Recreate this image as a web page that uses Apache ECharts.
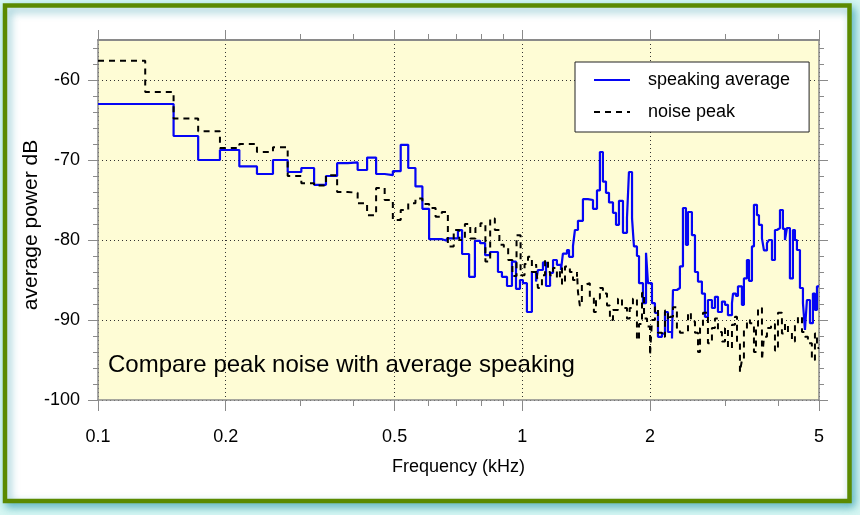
<!DOCTYPE html>
<html>
<head>
<meta charset="utf-8">
<script src="https://cdn.jsdelivr.net/npm/echarts@6/dist/echarts.min.js"></script>
<style>
html,body{margin:0;padding:0;background:#d6f7f3;}
#chart{width:860px;height:515px;}
</style>
</head>
<body>
<div id="chart"></div>
<script>
// ---- data (frequency in kHz, level in dB); each value holds until the next frequency ----
const speakingFreq = [0.1, 0.1507, 0.1722, 0.1938, 0.2153, 0.2369, 0.2584, 0.2799, 0.3014, 0.3230,
  0.3445, 0.3660, 0.3876, 0.4091, 0.4306, 0.4522, 0.4737, 0.4952, 0.5168, 0.5383,
  0.5598, 0.5813, 0.6029, 0.647, 0.664, 0.705, 0.721, 0.749, 0.773, 0.795,
  0.817, 0.839, 0.876, 0.895, 0.920, 0.945, 0.966, 0.987, 1.003, 1.025,
  1.053, 1.077, 1.088, 1.118, 1.137, 1.162, 1.181, 1.206, 1.233, 1.246,
  1.274, 1.288, 1.316, 1.330, 1.352, 1.389, 1.427, 1.467, 1.499, 1.523,
  1.548, 1.574, 1.600, 1.635, 1.662, 1.689, 1.726, 1.764, 1.783, 1.813,
  1.832, 1.862, 1.883, 1.924, 1.956, 1.977, 2.020, 2.053, 2.087, 2.133,
  2.168, 2.203, 2.252, 2.264, 2.313, 2.351, 2.390, 2.429, 2.456, 2.509,
  2.551, 2.593, 2.649, 2.693, 2.737, 2.797, 2.843, 2.890, 2.953, 3.002,
  3.051, 3.118, 3.136, 3.186, 3.221, 3.291, 3.327, 3.382, 3.420, 3.475,
  3.513, 3.571, 3.610, 3.669, 3.709, 3.770, 3.811, 3.874, 3.937, 3.980,
  4.046, 4.111, 4.157, 4.202, 4.270, 4.340, 4.388, 4.436, 4.509, 4.583,
  4.633, 4.683, 4.761, 4.838, 4.891, 4.945, 5.0];
const speakingDb = [-63, -67, -70, -68.75, -70.8, -71.75, -70, -71.5, -71, -73.1,
  -72, -70.4, -70.3, -71.25, -69.7, -71.75, -71.9, -71.4, -68.1, -71,
  -73.3, -76.1, -79.9, -80.1, -79.8, -78.75, -81.75, -84.6, -80.1, -80.4,
  -81.9, -81.5, -84, -84.6, -85.75, -82.7, -86.1, -85, -85.4, -89,
  -84, -85.2, -83.75, -82.8, -85.75, -84.1, -82.5, -83.1, -83.75, -81.7,
  -81.25, -82.1, -80.75, -78.75, -77.6, -74.9, -75, -76.1, -73.8, -69,
  -72.7, -74.1, -75.3, -76.6, -78.1, -75.1, -79.1, -77.25, -71.5, -77.3,
  -80.8, -82, -85.4, -87.9, -81.6, -85.4, -87.9, -89.1, -92.1, -91.7,
  -89, -91.5, -92.3, -86.25, -86, -83.3, -76, -80.6, -76.5, -79.4,
  -84, -85.2, -86.7, -89.6, -87.5, -88.5, -87.1, -89, -87.7, -88.1,
  -89.4, -87.9, -86.7, -87, -85.8, -88.1, -84.8, -82.5, -85.1, -80.8,
  -75.6, -76.9, -78.1, -79.8, -81.3, -80.4, -80, -82.5, -78.75, -78.5,
  -76.25, -78.6, -80, -78.5, -84.8, -78.75, -80, -81.25, -86, -87.9,
  -91.25, -87.5, -90.4, -86.7, -88.75, -85.8, -85.8];

const noiseFreq = [0.1, 0.1292, 0.1507, 0.1722, 0.1938, 0.2153, 0.2369, 0.2584, 0.2799, 0.3014,
  0.3230, 0.3445, 0.3660, 0.3876, 0.4091, 0.4306, 0.4522, 0.4737, 0.4952, 0.5168,
  0.5383, 0.5598, 0.5813, 0.6029, 0.6244, 0.6459, 0.6675, 0.6890, 0.7105, 0.7321,
  0.7536, 0.7751, 0.7966, 0.8182, 0.8397, 0.8612, 0.8827, 0.9043, 0.9258, 0.9473,
  0.9688, 0.9904, 1.0119, 1.031, 1.053, 1.077, 1.088, 1.112, 1.131, 1.149,
  1.162, 1.181, 1.206, 1.226, 1.240, 1.260, 1.294, 1.316, 1.345, 1.352,
  1.366, 1.381, 1.403, 1.442, 1.474, 1.491, 1.523, 1.548, 1.583, 1.608,
  1.635, 1.680, 1.717, 1.764, 1.790, 1.822, 1.862, 1.883, 1.914, 1.935,
  1.967, 1.999, 2.020, 2.053, 2.087, 2.133, 2.168, 2.203, 2.228, 2.264,
  2.313, 2.351, 2.401, 2.456, 2.495, 2.551, 2.593, 2.622, 2.664, 2.737,
  2.797, 2.843, 2.890, 2.953, 3.002, 3.051, 3.118, 3.169, 3.204, 3.256,
  3.291, 3.327, 3.382, 3.437, 3.513, 3.552, 3.591, 3.669, 3.709, 3.770,
  3.853, 3.937, 4.002, 4.089, 4.157, 4.225, 4.317, 4.388, 4.460, 4.559,
  4.633, 4.708, 4.810, 4.891, 4.945, 5.0];
const noiseDb = [-57.6, -61.5, -64.8, -66.4, -68.5, -68.0, -69, -68.4, -72, -72.9,
  -73.2, -71.9, -74, -74.1, -75.4, -76.9, -73.5, -75, -77.5, -76.25,
  -75.4, -74.8, -75.5, -76, -77.1, -76.5, -80.8, -78.75, -80, -78,
  -79.8, -78.5, -77.9, -82.7, -77.3, -78.75, -80.6, -81, -82.5, -84.5,
  -79.4, -84.4, -83, -82.1, -84, -83, -86, -84.4, -82.5, -84,
  -84.4, -83.5, -84.8, -83.5, -85.5, -83.3, -84, -85, -84, -86.5,
  -88.2, -85.6, -85.4, -87.2, -89, -87.3, -86, -86.7, -88.2, -90,
  -88.75, -87.3, -88.5, -89.8, -88.5, -87.3, -92.5, -90.5, -86.6, -89.8,
  -90.8, -94.4, -90, -88.4, -91.6, -92.1, -88.8, -90, -89.6, -88.4,
  -91, -91.6, -91.5, -89.1, -90.2, -91.6, -94, -91, -89.1, -92.9,
  -91, -89.8, -91.5, -92.7, -91, -93.5, -90.6, -89.6, -93, -96.5,
  -95, -91.25, -90, -90.4, -94, -91, -88.5, -95, -92.1, -91,
  -90.5, -93.8, -89.1, -91.7, -90.5, -91.5, -92.7, -90.5, -89.6, -91.5,
  -92.1, -92.9, -95, -91.7, -93.5, -93.5];

const xMajorTicks = [0.1, 0.2, 0.5, 1, 2, 5];
const xMinorTicks = [0.3, 0.4, 0.6, 0.7, 0.8, 0.9, 3, 4];
const yMajorTicks = [-100, -90, -80, -70, -60];
const yMinorTicks = [-98, -96, -94, -92, -88, -86, -84, -82, -78, -76, -74, -72, -68, -66, -64, -62, -58, -56];
const seriesNames = ['speaking average', 'noise peak'];
const annotation = 'Compare peak noise with average speaking';

const FONT = '"Liberation Sans", Arial, Helvetica, sans-serif';
const AXIS_GRAY = '#8a8a8a';

function pairs(xs, ys) { return xs.map((x, i) => [x, ys[i]]); }

function xAxisDef(pos, ticks, len, opts) {
  return Object.assign({
    type: 'log', logBase: 10, min: 0.1, max: 5, position: pos,
    axisLine: { show: false },
    axisTick: { show: true, inside: false, length: len, customValues: ticks, lineStyle: { color: AXIS_GRAY, width: 1 } },
    axisLabel: { show: false },
    splitLine: { show: false }
  }, opts || {});
}
function yAxisDef(pos, ticks, len, opts) {
  return Object.assign({
    type: 'value', min: -100, max: -55, position: pos,
    axisLine: { show: false },
    axisTick: { show: true, inside: false, length: len, customValues: ticks, lineStyle: { color: AXIS_GRAY, width: 1 } },
    axisLabel: { show: false },
    splitLine: { show: false }
  }, opts || {});
}

const chart = echarts.init(document.getElementById('chart'), null, { renderer: 'canvas' });
chart.setOption({
  backgroundColor: '#d6f7f3',
  animation: false,
  textStyle: { fontFamily: FONT },
  graphic: [
    {
      type: 'rect', z: -50, silent: true,
      shape: { x: 5, y: 5.5, width: 844.5, height: 495.5 },
      style: { fill: '#ffffff', stroke: '#5b8a00', lineWidth: 4.5,
        shadowBlur: 8, shadowOffsetX: 3, shadowOffsetY: 4, shadowColor: 'rgba(20,140,160,0.55)' }
    },
    {
      type: 'text', left: 108, top: 353, z: 50, silent: true,
      style: { text: annotation, font: '24px ' + FONT, fill: '#000' }
    }
  ],
  grid: {
    left: 98, right: 41, top: 40, bottom: 115,
    show: true, backgroundColor: '#fefcd5', borderWidth: 0
  },
  legend: {
    orient: 'vertical', left: 575, top: 62,
    itemWidth: 36, itemHeight: 14, itemGap: 14,
    padding: [9, 19, 11, 18],
    backgroundColor: '#ffffff', borderColor: '#222', borderWidth: 1,
    itemStyle: { opacity: 0, borderWidth: 0 },
    textStyle: { fontSize: 18, color: '#000', fontFamily: FONT, padding: [0, 0, 0, 13] },
    data: seriesNames
  },
  xAxis: [
    xAxisDef('bottom', xMajorTicks, 11, {
      name: 'Frequency (kHz)', nameLocation: 'middle', nameGap: 58,
      nameTextStyle: { fontSize: 18, color: '#000', fontFamily: FONT },
      axisLine: { show: true, lineStyle: { color: AXIS_GRAY, width: 1.5 } },
      axisLabel: { show: true, customValues: xMajorTicks, margin: 28, fontSize: 18, color: '#000', fontFamily: FONT,
        formatter: v => String(v) },
      splitLine: { show: true, lineStyle: { color: '#333', width: 1, type: [1, 3] } }
    }),
    xAxisDef('bottom', xMinorTicks, 6),
    xAxisDef('top', xMajorTicks, 10, { axisLine: { show: true, lineStyle: { color: AXIS_GRAY, width: 2 } } }),
    xAxisDef('top', xMinorTicks, 6)
  ],
  yAxis: [
    yAxisDef('left', yMajorTicks, 10, {
      name: 'average power dB', nameLocation: 'middle', nameGap: 56, nameMoveOverlap: false,
      nameTextStyle: { fontSize: 21, color: '#000', fontFamily: FONT, padding: [0, 10, 0, 0] },
      axisLine: { show: true, lineStyle: { color: AXIS_GRAY, width: 1.5 } },
      axisLabel: { show: true, customValues: yMajorTicks, margin: 18, fontSize: 18, color: '#000', fontFamily: FONT },
      splitLine: { show: true, lineStyle: { color: '#333', width: 1, type: [1, 3] } }
    }),
    yAxisDef('left', yMinorTicks, 5),
    yAxisDef('right', yMajorTicks, 9, { axisLine: { show: true, lineStyle: { color: AXIS_GRAY, width: 1.5 } } }),
    yAxisDef('right', yMinorTicks, 5)
  ],
  series: [
    {
      name: seriesNames[0], type: 'line', step: 'end',
      xAxisIndex: 0, yAxisIndex: 0,
      symbol: 'none', showSymbol: false, z: 3,
      lineStyle: { color: '#0505f5', width: 2.2 },
      itemStyle: { color: '#0505f5' },
      data: pairs(speakingFreq, speakingDb)
    },
    {
      name: seriesNames[1], type: 'line', step: 'end',
      xAxisIndex: 0, yAxisIndex: 0,
      symbol: 'none', showSymbol: false, z: 4,
      lineStyle: { color: '#000', width: 2, type: [6, 5] },
      itemStyle: { color: '#000' },
      data: pairs(noiseFreq, noiseDb)
    }
  ]
});
</script>
</body>
</html>
